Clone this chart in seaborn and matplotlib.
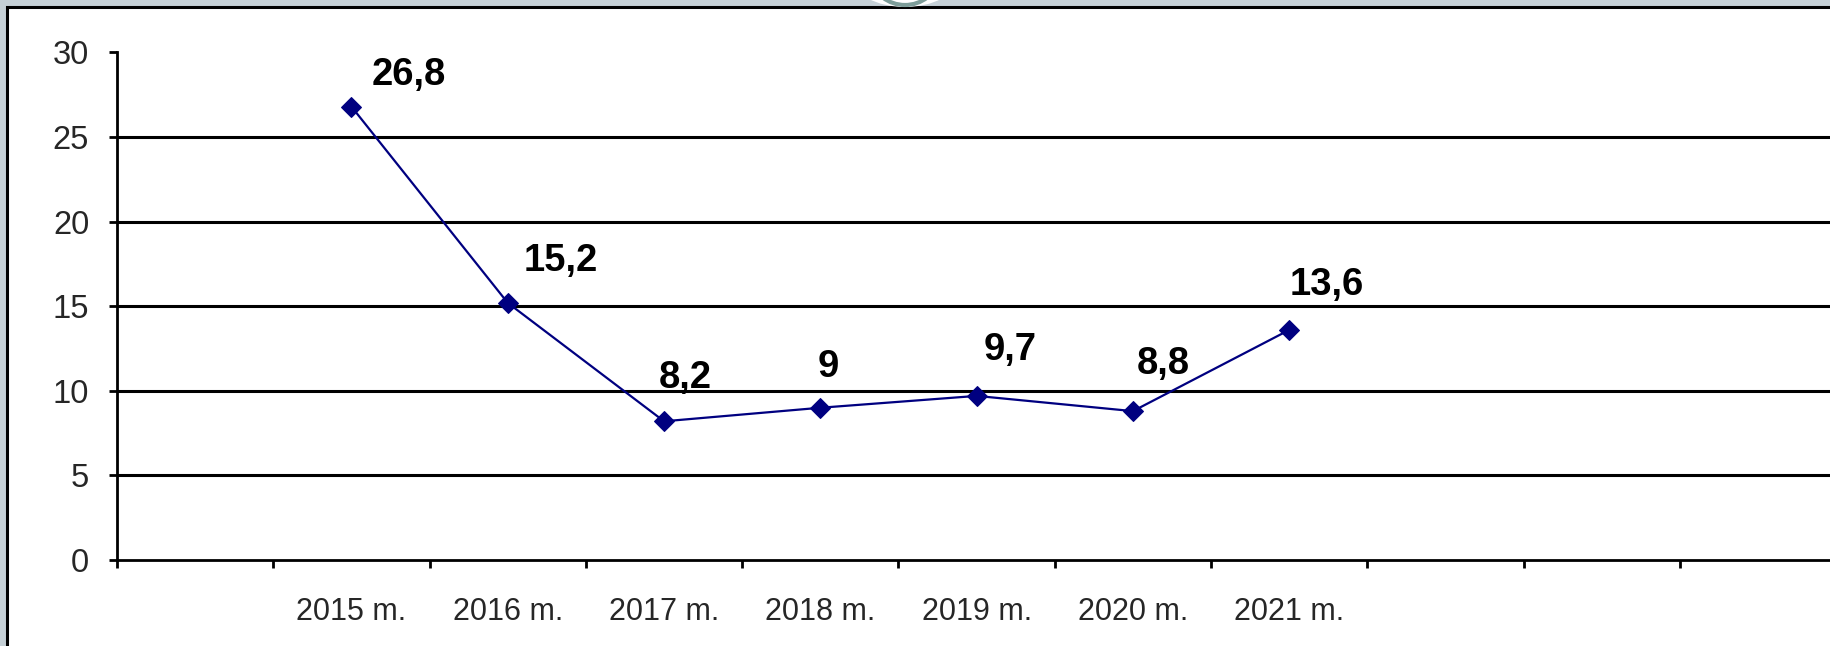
import numpy as np
import pandas as pd
import seaborn as sns
import matplotlib.pyplot as plt
from matplotlib.patches import Rectangle, Ellipse, Arc

# chart data: 11 category slots, only 2015-2021 carry values
categories = ["", "2015 m.", "2016 m.", "2017 m.", "2018 m.", "2019 m.",
              "2020 m.", "2021 m.", "", "", ""]
values = [np.nan, 26.8, 15.2, 8.2, 9.0, 9.7, 8.8, 13.6, np.nan, np.nan, np.nan]
value_labels = ["", "26,8", "15,2", "8,2", "9", "9,7", "8,8", "13,6", "", "", ""]
y_ticks = [0, 5, 10, 15, 20, 25, 30]

# label offsets in points relative to each marker (hand placed in original)
label_dx = [0, 41, 38, 15, 6, 24, 22, 27, 0, 0, 0]
label_dy = [0, 23, 30, 31, 29, 33, 34, 32, 0, 0, 0]

df = pd.DataFrame({"slot": np.arange(len(categories)) + 0.5,
                   "cat": categories, "value": values})

sns.set_style("white")
plt.rcParams['font.family'] = ['Liberation Sans', 'DejaVu Sans']

W, H = 1831, 646
fig = plt.figure(figsize=(W / 100, H / 100), dpi=100, facecolor='#c5d0d6')

# white panel with dark frame (extends past right / bottom edges)
fig.patches.append(Rectangle((7 / W, -0.1), 1.2, 1.1 - 7 / H, transform=fig.transFigure,
                             facecolor='white', edgecolor='black', lw=2.2, zorder=-3))
# partial logo peeking at the top
fig.patches.append(Ellipse((905 / W, 1 + 22 / H), 104 / W, 58 / H, transform=fig.transFigure,
                           facecolor='white', edgecolor='none', zorder=-2))
fig.patches.append(Arc((905 / W, 1 + 26 / H), 68 / W, 62 / H, transform=fig.transFigure,
                       theta1=200, theta2=340, color='#7d9d99', lw=3, zorder=-1))

left, bottom, top = 117, 560, 52.5
ax = fig.add_axes([left / W, 1 - bottom / H, 11 * 156.3 / W, (bottom - top) / H])
ax.set_facecolor('none')
ax.set_zorder(5)

# gridlines
for yv in y_ticks[1:-1]:
    ax.axhline(yv, color='black', lw=2.2, zorder=1)
ax.axhline(30, color='#b5b5b5', lw=1.3, zorder=1)

sns.lineplot(data=df, x="slot", y="value", ax=ax, color='#000080', lw=1.6,
             marker='D', markersize=10.5, markeredgecolor='#000080', zorder=3)

for i, (xv, yv, txt) in enumerate(zip(df["slot"], values, value_labels)):
    if txt:
        ax.annotate(txt, (xv, yv), xytext=(label_dx[i], label_dy[i]),
                    textcoords='offset points', ha='center', va='center',
                    fontsize=27.5, fontweight='bold', color='black')

ax.set_xlim(0, len(categories))
ax.set_ylim(0, 30)
ax.set_yticks(y_ticks)
ax.set_yticklabels([str(v) for v in y_ticks], fontsize=23.5)
ax.set_xticks(np.arange(len(categories) + 1))
ax.set_xticklabels([])
ax.set_xticks(df["slot"], minor=True)
ax.set_xticklabels(categories, minor=True, fontsize=22)
ax.tick_params(axis='x', which='minor', length=0, pad=27)
ax.tick_params(axis='x', which='major', direction='out', length=6, width=2,
               color='black', bottom=True)
ax.tick_params(axis='y', direction='out', length=6, width=2, color='black',
               left=True, pad=14)
ax.set_xlabel("")
ax.set_ylabel("")

for s in ['top', 'right']:
    ax.spines[s].set_visible(False)
for s in ['left', 'bottom']:
    ax.spines[s].set_color('black')
    ax.spines[s].set_linewidth(2.0)
ax.spines['left'].set_zorder(4)

fig.savefig('out.png', dpi=100, facecolor=fig.get_facecolor())
